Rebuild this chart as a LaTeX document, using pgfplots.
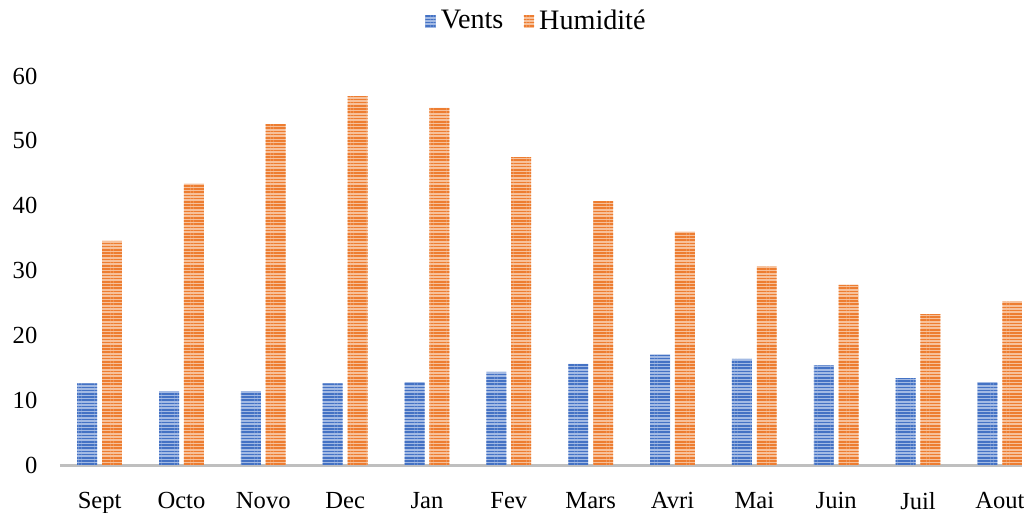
\documentclass[border=0pt]{standalone}
\usepackage{fontspec}
\setmainfont{Liberation Serif}
\usepackage{pgfplots}
\pgfplotsset{compat=1.18}
\usetikzlibrary{patterns.meta}
\definecolor{ventdark}{HTML}{4472C4}
\definecolor{ventlight}{HTML}{A3BAE4}
\definecolor{humdark}{HTML}{ED7D31}
\definecolor{humlight}{HTML}{F7C19B}
\definecolor{axisgray}{HTML}{BFBFBF}

\pgfplotstableread{
x vents hum
0 12.6 34.6
1 11.4 43.4
2 11.4 52.6
3 12.6 56.9
4 12.8 55.1
5 14.4 47.5
6 15.6 40.7
7 17.1 36.0
8 16.4 30.6
9 15.4 27.8
10 13.4 23.3
11 12.8 25.2
}\climat

\begin{document}
\fontsize{9.4}{11}\selectfont
\begin{tikzpicture}
\begin{axis}[
    name=ax,
    scale only axis,
    width=375.8pt, height=152pt,
    ybar=1.9pt,
    bar width=7.8pt,
    xmin=-0.485, xmax=11.27,
    ymin=0, ymax=60,
    ytick={0,10,...,60},
    xtick=data,
    xticklabels={Sept,Octo,Novo,Dec,Jan,Fev,Mars,Avri,Mai,Juin,Juil,Aout},
    /pgf/number format/assume math mode=true,
    tick label style={font=\fontsize{9.6}{11}\selectfont},
    yticklabel style={xshift=-5.5pt},
    xticklabel style={yshift=-3pt},
    axis lines*=left,
    y axis line style={draw=none},
    x axis line style={axisgray, line width=1.2pt, -},
    tick style={draw=none},
    legend columns=2,
    legend style={at={(0.497,1.14)}, anchor=center, draw=none, fill=none,
        font=\fontsize{11}{13}\selectfont, /tikz/every even column/.append style={column sep=6pt}},
    legend image code/.code={\draw[#1, draw=none] (0pt,-2.5pt) rectangle (4pt,2.5pt);},
]
\addplot[fill=ventlight, draw=none,
    postaction={pattern={Lines[angle=0,distance=1.25pt,line width=0.6pt]}, pattern color=ventdark}]
    table[x=x, y=vents] {\climat};
\addlegendentry{Vents}
\addplot[fill=humlight, draw=none,
    postaction={pattern={Lines[angle=0,distance=1.25pt,line width=0.6pt]}, pattern color=humdark}]
    table[x=x, y=hum] {\climat};
\addlegendentry{Humidité}
\end{axis}
\pgfresetboundingbox
\path ([shift={(-23.4pt,-18.4pt)}]ax.south west) rectangle ([shift={(0.8pt,29.7pt)}]ax.north east);
\end{tikzpicture}
\end{document}
